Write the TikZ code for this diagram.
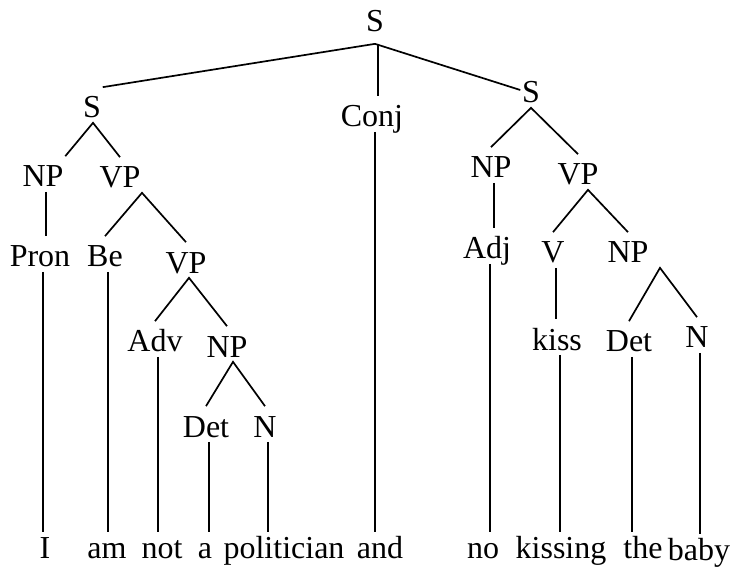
\documentclass[tikz,border=0pt]{standalone}
\usepackage{fontspec}
\setmainfont{Liberation Serif}
\tikzset{
  cat/.style={anchor=base,inner sep=1pt,text height=29pt,text depth=3pt,
    font=\fontsize{32}{37}\selectfont},
  word/.style={anchor=base,inner sep=1pt,text height=24pt,text depth=7pt,
    font=\fontsize{32}{37}\selectfont}
}
\begin{document}
\begin{tikzpicture}[x=1pt,y=-1pt,line width=1.7pt]
  \useasboundingbox (0,0) rectangle (732,567);
  % categories
  \node[cat,text depth=10pt] (S) at (375,32) {S};
  \node[cat] (Sl) at (92,118) {S};
  \node[cat] (Conj) at (372,127) {Conj};
  \node[cat] (Sr) at (531,103) {S};
  \node[cat] (NPl) at (43,187) {NP};
  \node[cat] (VPl) at (120,188) {VP};
  \node[cat] (Pron) at (40,267) {Pron};
  \node[cat] (Be) at (105,267) {Be};
  \node[cat] (VPm) at (186,273) {VP};
  \node[cat] (Adv) at (155,352) {Adv};
  \node[cat] (NPm) at (227,357) {NP};
  \node[cat] (Detl) at (206,437) {Det};
  \node[cat] (Nl) at (265,437) {N};
  \node[cat] (NPr) at (491,178) {NP};
  \node[cat] (VPr) at (578,185) {VP};
  \node[cat] (Adj) at (487,259) {Adj};
  \node[cat] (V) at (553,263) {V};
  \node[cat] (NPrr) at (628,263) {NP};
  \node[cat] (kiss) at (557,350) {kiss};
  \node[cat] (Detr) at (629,352) {Det};
  \node[cat] (Nr) at (697,348) {N};
  % words
  \node[word] (w1) at (45,558) {I};
  \node[word] (w2) at (107,558) {am};
  \node[word] (w3) at (162,558) {not};
  \node[word] (w4) at (205,558) {a};
  \node[word] (w5) at (284,558) {politician};
  \node[word] (w6) at (380,558) {and};
  \node[word] (w7) at (483,558) {no};
  \node[word] (w8) at (561,558) {kissing};
  \node[word] (w9) at (643,558) {the};
  \node[word] (w10) at (699,560) {baby};
  % branches
  \draw (S.south) -- (Sl.north east);
  \draw (S.south) -- (Sr.west);
  \foreach \p/\dx/\l/\r in {Sl/1/NPl.north east/VPl.north,
      VPl/22/Be.north/VPm.north, VPm/3/Adv.north/NPm.north,
      NPm/6/Detl.north/Nl.north, Sr/0/NPr.north/VPr.north,
      VPr/10/V.north/NPrr.north, NPrr/32/Detr.north/Nr.north}
    \draw (\l) -- ([xshift=\dx pt]\p.south) -- (\r);
  % straight down
  \foreach \p/\c in {S/Conj, NPl/Pron, NPr/Adj, V/kiss, Pron/w1, Be/w2,
      Adv/w3, Detl/w4, Nl/w5, Conj/w6, Adj/w7, kiss/w8, Detr/w9, Nr/w10}
    {\path (\p.south) ++(3pt,0) coordinate (top);
     \draw (top) -- (top |- \c.north);}
\end{tikzpicture}
\end{document}
